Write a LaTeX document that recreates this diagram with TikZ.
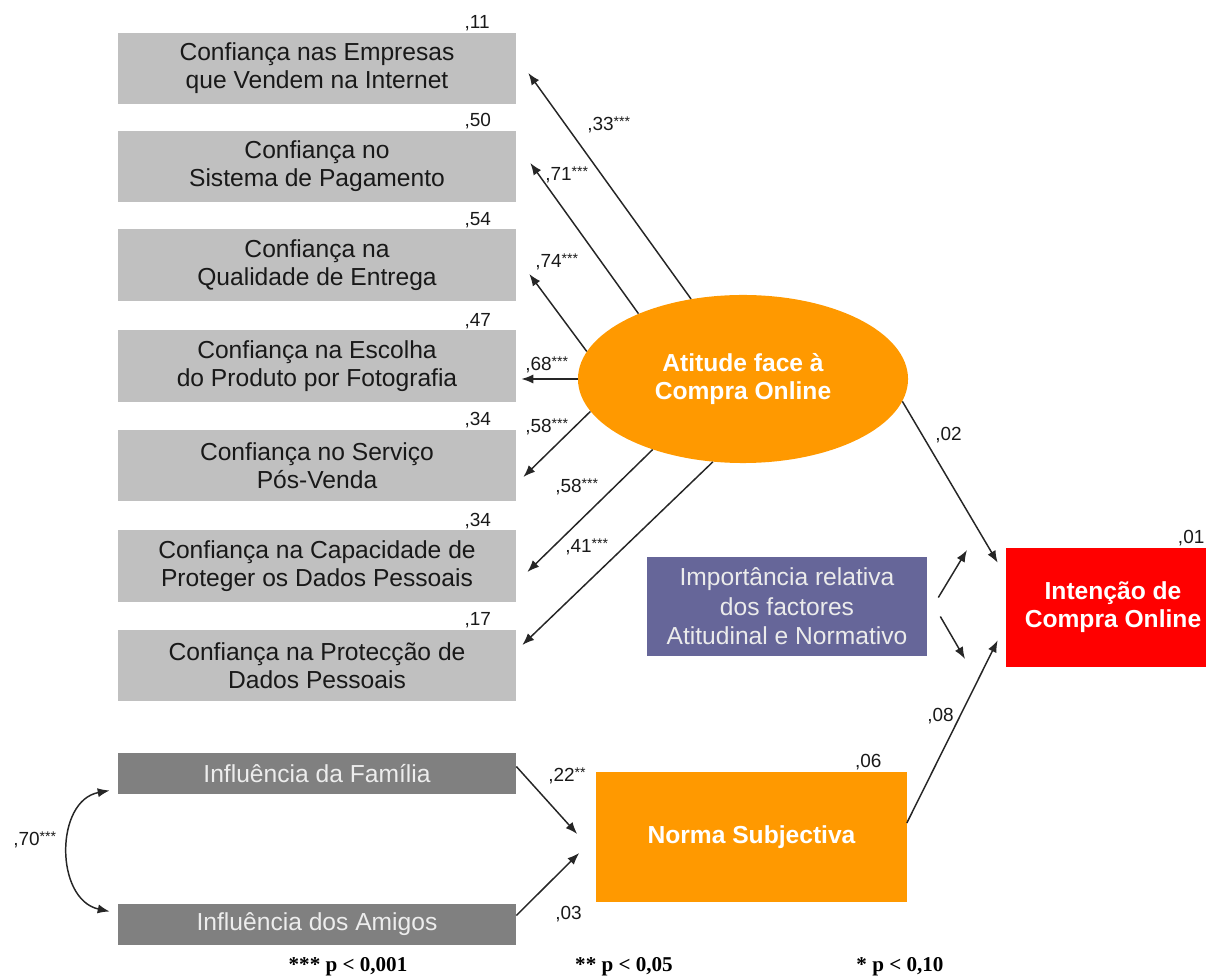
\documentclass[tikz,border=0pt]{standalone}
\usepackage{fontspec}
\setmainfont{Liberation Sans}
\newfontfamily\legfont{Liberation Serif}
\usetikzlibrary{arrows.meta,calc,shapes.geometric}

\definecolor{confgrey}{HTML}{C0C0C0}
\definecolor{inflgrey}{HTML}{808080}
\definecolor{attorange}{HTML}{FF9900}
\definecolor{intred}{HTML}{FF0000}
\definecolor{imppurple}{HTML}{666699}

\newcommand{\coef}[2]{#1\raisebox{0.45ex}{\fontsize{10}{10}\selectfont#2}}

\tikzset{
  boxfont/.style={font=\fontsize{17.5}{20}\selectfont},
  conf/.style={boxfont, fill=confgrey, text=black!90, minimum width=9.95cm, minimum height=1.775cm, inner sep=0pt, align=center},
  infl/.style={boxfont, fill=inflgrey, text=black!7, minimum width=9.95cm, minimum height=1.025cm, inner sep=0pt},
  latent/.style={ellipse, boxfont, font=\fontsize{17.5}{20}\selectfont\bfseries, fill=attorange, text=white, minimum width=8.25cm, minimum height=4.2cm, inner sep=0pt, align=center},
  construct/.style={font=\fontsize{17.5}{20}\selectfont\bfseries, text=white, inner sep=0pt, align=center},
  val/.style={font=\fontsize{13.5}{16}\selectfont, text=black!90, inner sep=0pt},
  tip/.style={Latex[length=8.5pt,width=6.5pt]},
  effect/.style={-{Latex[length=8.5pt,width=6.5pt]}, line width=1.05pt, draw=black!85},
  leg/.style={font=\legfont\bfseries\fontsize{15}{18}\selectfont, inner sep=0pt}
}

\begin{document}
\begin{tikzpicture}[x=0.025cm, y=-0.025cm]
  \useasboundingbox (0,0) rectangle (1206,977);

  \node[conf] (c1) at (317,68.5)  {Confiança nas Empresas\\que Vendem na Internet};
  \node[conf] (c2) at (317,166.5) {Confiança no\\Sistema de Pagamento};
  \node[conf] (c3) at (317,265)   {Confiança na\\Qualidade de Entrega};
  \node[conf] (c4) at (317,366)   {Confiança na Escolha\\do Produto por Fotografia};
  \node[conf] (c5) at (317,465.5) {Confiança no Serviço\\Pós-Venda};
  \node[conf] (c6) at (317,566)   {Confiança na Capacidade de\\Proteger os Dados Pessoais};
  \node[conf] (c7) at (317,665.5) {Confiança na Protecção de\\Dados Pessoais};

  \node[infl] (fam) at (317,773.5) {Influência da Família};
  \node[infl] (ami) at (317,924.5) {Influência dos Amigos};

  \node[latent] (att) at (743,379) {Atitude face à\\Compra Online};
  \node[construct, fill=imppurple, text=black!8, font=\fontsize{17.5}{21}\selectfont,
        minimum width=7cm, minimum height=2.475cm] (imp) at (787,606.5)
        {Importância relativa\\dos factores\\Atitudinal e Normativo};
  \node[construct, fill=intred, minimum width=5.35cm, minimum height=2.975cm] (red) at (1113,607.5)
        {Intenção de\\Compra Online};
  \node[construct, fill=attorange, minimum width=7.75cm, minimum height=3.25cm] (norma) at (751.5,837)
        {Norma Subjectiva};

  \foreach \c/\r in {c1/11, c2/50, c3/54, c4/47, c5/34, c6/34, c7/17, norma/06}
    \node[val, anchor=base west] at ($(\c.north east)+(-52,-4)$) {,\r};
  \node[val, anchor=base west] at ($(red.north west)+(172,-4)$) {,01};

  \draw[effect] (att.123) -- ($(c1.east)+(12,4.5)$);
  \draw[effect] (att.148) -- ($(c2.east)+(14,-3.5)$);
  \draw[effect] (att.170) -- ($(c3.east)+(13,9)$);
  \draw[effect] (att.180) -- ($(c4.east)+(5,13)$);
  \draw[effect] (att.192) -- ($(c5.east)+(7,11.5)$);
  \draw[effect] (att.218) -- ($(c6.east)+(11,6)$);
  \draw[effect] (att.250) -- ($(c7.east)+(6,-20.5)$);

  \node[val, anchor=west] at (587,125) {\coef{,33}{***}};
  \node[val, anchor=west] at (545,175) {\coef{,71}{***}};
  \node[val, anchor=west] at (535,262) {\coef{,74}{***}};
  \node[val, anchor=west] at (525,365) {\coef{,68}{***}};
  \node[val, anchor=west] at (525,427) {\coef{,58}{***}};
  \node[val, anchor=west] at (555,487) {\coef{,58}{***}};
  \node[val, anchor=west] at (565,547) {\coef{,41}{***}};

  \coordinate (up) at (967,550);
  \coordinate (down) at (965,659);
  \draw[effect] ($(imp.east)+(11,-9)$) -- (up);
  \draw[effect] ($(imp.east)+(13,10)$) -- (down);

  \draw[effect] (att.-8) -- ($(red.north west)+(-8,15)$);
  \node[val, anchor=west] at (935,435) {,02};
  \draw[effect] ($(norma.east)+(0,-14)$) -- ($(red.south west)+(-8,-27)$);
  \node[val, anchor=west] at (927,716) {,08};

  \draw[effect] ($(fam.east)+(0,-7)$) -- ($(norma.west)+(-19,-3)$);
  \node[val, anchor=west] at (548,776) {\coef{,22}{**}};
  \draw[effect] ($(ami.east)+(0,-9)$) -- ($(norma.west)+(-17,16)$);
  \node[val, anchor=west] at (555,914) {,03};

  \draw[effect, {Latex[length=8.5pt,width=6.5pt]}-{Latex[length=8.5pt,width=6.5pt]}]
    ($(fam.west)+(-8,17)$) .. controls +(-55,10) and +(-55,-12) .. ($(ami.west)+(-8,-13)$);
  \node[val, anchor=west] at (13,840) {\coef{,70}{***}};

  \node[leg] (p1) at (348,967) {*** p < 0,001};
  \node[leg] (p2) at (624,967) {** p < 0,05};
  \node[leg] (p3) at (900,967) {* p < 0,10};
\end{tikzpicture}
\end{document}
